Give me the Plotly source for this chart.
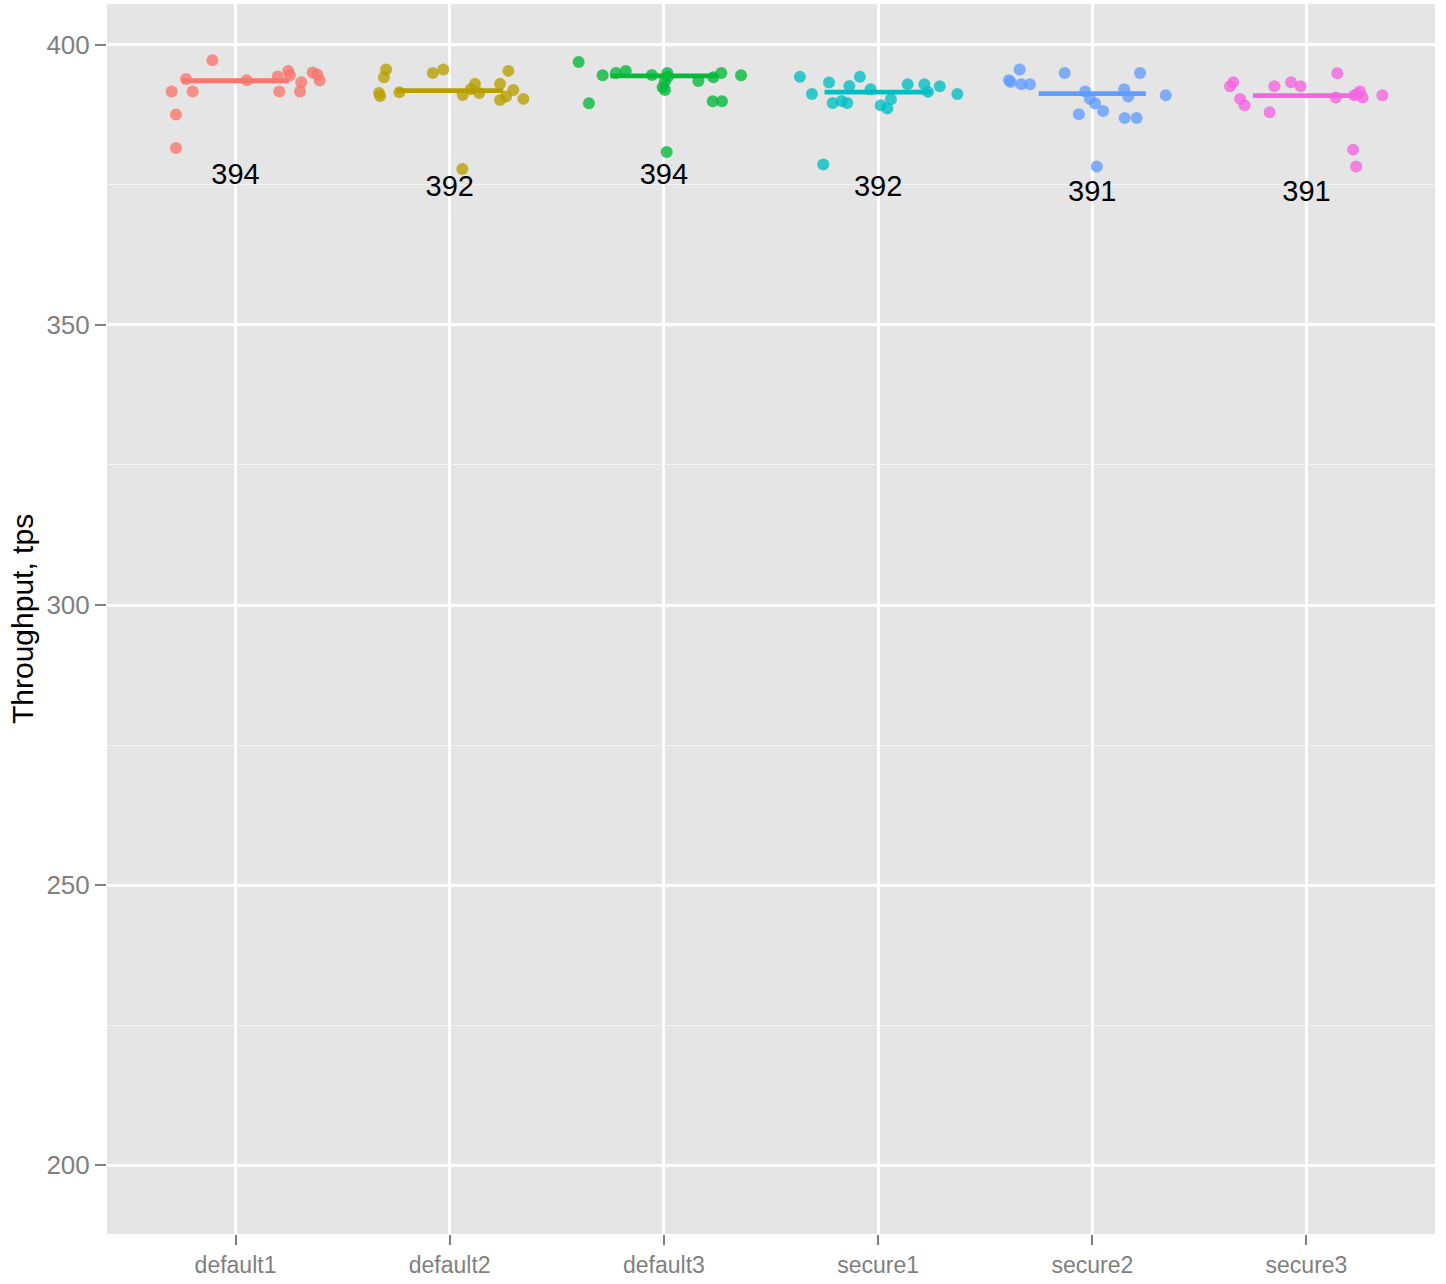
import plotly.graph_objects as go

categories = ["default1", "default2", "default3", "secure1", "secure2", "secure3"]
colors = ["#F8766D", "#B79F00", "#00BA38", "#00BFC4", "#619CFF", "#F564E3"]

# jitter offsets (category units) and throughput values per category
default1_dx = [-0.108, -0.231, -0.298, -0.200, -0.278, -0.278, 0.052, 0.197, 0.246, 0.254, 0.204, 0.307, 0.301, 0.360, 0.382, 0.393]
default1_y = [397.27, 393.93, 391.66, 391.66, 387.55, 381.61, 393.70, 394.34, 395.36, 394.59, 391.66, 393.34, 391.66, 395.05, 394.70, 393.63]

default2_dx = [-0.297, -0.307, -0.330, -0.325, -0.235, -0.079, -0.030, 0.118, 0.061, 0.098, 0.138, 0.235, 0.274, 0.297, 0.263, 0.235, 0.344, 0.059]
default2_y = [395.59, 394.23, 391.43, 390.89, 391.55, 395.00, 395.59, 393.04, 391.07, 392.09, 391.43, 393.04, 395.36, 391.96, 390.77, 390.18, 390.36, 377.86]

default3_dx = [-0.398, -0.286, -0.224, -0.178, -0.350, -0.056, 0.016, 0.019, 0.004, -0.006, 0.005, 0.161, 0.231, 0.268, 0.360, 0.228, 0.271, 0.013]
default3_y = [396.96, 394.59, 395.00, 395.36, 389.59, 394.64, 395.00, 394.29, 393.39, 392.45, 391.96, 393.57, 394.23, 395.00, 394.59, 389.95, 389.95, 380.89]

secure1_dx = [-0.365, -0.309, -0.229, -0.212, -0.170, -0.144, -0.134, -0.085, -0.035, 0.012, 0.043, 0.060, 0.138, 0.216, 0.233, 0.288, 0.370, -0.256]
secure1_y = [394.29, 391.25, 393.27, 389.64, 390.00, 389.64, 392.68, 394.29, 392.09, 389.23, 388.63, 390.30, 392.98, 392.98, 391.61, 392.63, 391.25, 378.63]

secure2_dx = [-0.389, -0.381, -0.339, -0.331, -0.291, -0.129, -0.033, -0.011, 0.013, 0.051, -0.063, 0.149, 0.168, 0.151, 0.207, 0.223, 0.343, 0.021]
secure2_y = [393.70, 393.39, 395.59, 392.98, 392.98, 395.00, 391.66, 390.36, 389.52, 388.21, 387.63, 392.09, 390.77, 386.96, 386.96, 395.00, 391.02, 378.27]

secure3_dx = [-0.357, -0.342, -0.310, -0.289, -0.172, -0.150, -0.072, -0.027, 0.144, 0.137, 0.223, 0.250, 0.262, 0.237, 0.354, 0.218, 0.232]
secure3_y = [392.63, 393.34, 390.36, 389.23, 387.98, 392.63, 393.34, 392.63, 394.95, 390.59, 391.02, 391.66, 390.59, 391.25, 391.02, 381.30, 378.27]

medians = [393.6, 391.85, 394.46, 391.55, 391.3, 390.95]
median_labels = [394, 392, 394, 392, 391, 391]

series_dx = [default1_dx, default2_dx, default3_dx, secure1_dx, secure2_dx, secure3_dx]
series_y = [default1_y, default2_y, default3_y, secure1_y, secure2_y, secure3_y]

y_ticks = [200, 250, 300, 350, 400]
y_title = "Throughput, tps"

LABEL_OFFSET = 17.6
HALF_WIDTH = 0.25

fig = go.Figure()

for i, (cat, col) in enumerate(zip(categories, colors)):
    fig.add_trace(go.Scatter(
        x=[i - HALF_WIDTH, i + HALF_WIDTH], y=[medians[i], medians[i]],
        mode="lines", line=dict(color=col, width=4.8), showlegend=False,
        hoverinfo="skip"))
    fig.add_trace(go.Scatter(
        x=[i + d for d in series_dx[i]], y=series_y[i],
        mode="markers", marker=dict(color=col, size=12, opacity=0.78, line=dict(width=0)),
        name=cat, showlegend=False))

fig.add_trace(go.Scatter(
    x=list(range(len(categories))),
    y=[v - LABEL_OFFSET for v in median_labels],
    text=[str(v) for v in median_labels],
    mode="text", textposition="middle center",
    textfont=dict(family="Liberation Sans, Arial, sans-serif", size=29, color="black"),
    showlegend=False, hoverinfo="skip"))

fig.update_layout(
    width=1446, height=1284,
    margin=dict(l=107, r=11, t=4, b=50),
    paper_bgcolor="white", plot_bgcolor="#E5E5E5",
    font=dict(family="Liberation Sans, Arial, sans-serif"),
)

fig.update_xaxes(
    range=[-0.6, 5.6], tickvals=list(range(len(categories))), ticktext=categories,
    showgrid=True, gridcolor="white", gridwidth=2.5, zeroline=False,
    ticks="outside", ticklen=10, tickwidth=2, tickcolor="#7F7F7F",
    tickfont=dict(family="Liberation Sans, Arial", size=23, color="#7F7F7F"),
    showline=False,
)
fig.update_yaxes(
    range=[187.7, 407.3], tickvals=y_ticks,
    showgrid=True, gridcolor="white", gridwidth=2.5, zeroline=False,
    ticks="outside", ticklen=11, tickwidth=2, tickcolor="#7F7F7F",
    tickfont=dict(family="Liberation Sans, Arial", size=26, color="#7F7F7F"),
    minor=dict(tickvals=[225, 275, 325, 375], showgrid=True, gridcolor="#F2F2F2", gridwidth=1.2, ticks=""),
    showline=False,
)

fig.add_annotation(
    text=y_title, xref="paper", yref="paper", x=0, y=0.5, xshift=-85,
    xanchor="center", yanchor="middle",
    textangle=-90, showarrow=False,
    font=dict(family="Liberation Sans, Arial", size=30, color="black"),
)

fig.write_html("out.html", config={"displayModeBar": False},
               post_script="document.body.style.margin='0';")
